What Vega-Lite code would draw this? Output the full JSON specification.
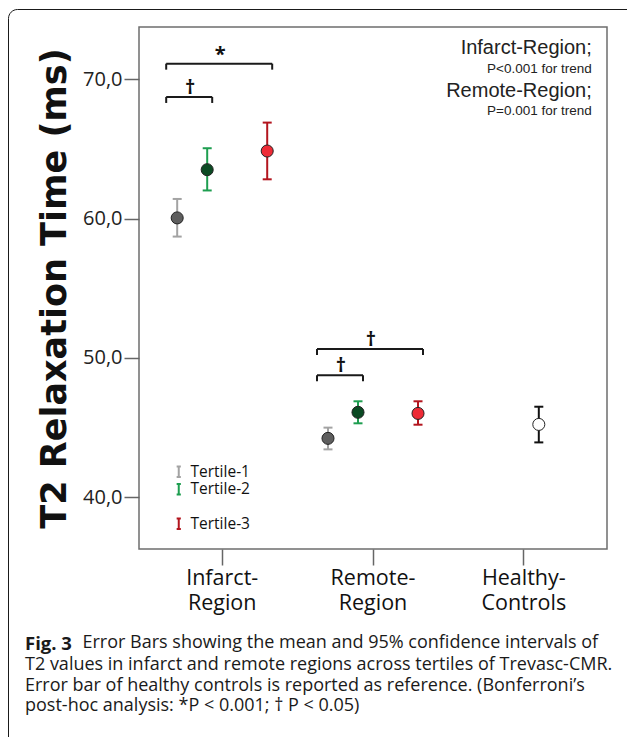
{
  "$schema": "https://vega.github.io/schema/vega-lite/v6.json",
  "width": 468,
  "height": 522,
  "autosize": {"type": "none"},
  "padding": {"left": 139, "top": 27, "right": 20, "bottom": 188},
  "background": "white",
  "config": {"view": {"stroke": "#6e6e6e", "strokeWidth": 1.5}, "font": "Open Sans"},
  "title": {
    "text": "Fig. 3",
    "subtitle": [
      "T2 values in infarct and remote regions across tertiles of Trevasc-CMR.",
      "Error bar of healthy controls is reported as reference. (Bonferroni’s",
      "post-hoc analysis: *P < 0.001; † P < 0.05)"
    ],
    "orient": "bottom",
    "anchor": "start",
    "frame": "group",
    "dx": -114,
    "offset": -196,
    "font": "Open Sans",
    "fontSize": 18.5,
    "fontWeight": "bold",
    "color": "#1a1a1a",
    "subtitleFont": "Open Sans",
    "subtitleFontSize": 18,
    "subtitleFontWeight": "normal",
    "subtitleColor": "#1a1a1a",
    "subtitleLineHeight": 20.5,
    "subtitlePadding": 3
  },
  "datasets": {
    "stats": [
      {"group": "Infarct-Region", "series": "Tertile-1", "mean": 60.05, "lower": 58.71, "upper": 61.41},
      {"group": "Infarct-Region", "series": "Tertile-2", "mean": 63.51, "lower": 62.02, "upper": 65.05},
      {"group": "Infarct-Region", "series": "Tertile-3", "mean": 64.85, "lower": 62.82, "upper": 66.89},
      {"group": "Remote-Region", "series": "Tertile-1", "mean": 44.23, "lower": 43.44, "upper": 45.0},
      {"group": "Remote-Region", "series": "Tertile-2", "mean": 46.1, "lower": 45.31, "upper": 46.89},
      {"group": "Remote-Region", "series": "Tertile-3", "mean": 46.02, "lower": 45.21, "upper": 46.89},
      {"group": "Healthy-Controls", "series": "Control", "mean": 45.23, "lower": 43.94, "upper": 46.5}
    ],
    "brackets": [
      {"group": "Infarct-Region", "type": "short", "top": 68.73, "symbol": "†"},
      {"group": "Infarct-Region", "type": "long", "top": 71.12, "symbol": "*"},
      {"group": "Remote-Region", "type": "short", "top": 48.76, "symbol": "†"},
      {"group": "Remote-Region", "type": "long", "top": 50.65, "symbol": "†"}
    ],
    "notes": [
      {"group": "Healthy-Controls", "level": "head", "label": "Infarct-Region;", "y": 72.25},
      {"group": "Healthy-Controls", "level": "trend", "label": "P<0.001 for trend", "y": 70.74},
      {"group": "Healthy-Controls", "level": "head", "label": "Remote-Region;", "y": 69.16},
      {"group": "Healthy-Controls", "level": "trend", "label": "P=0.001 for trend", "y": 67.72}
    ]
  },
  "layer": [
    {
      "data": {"name": "stats"},
      "mark": {"type": "rule", "strokeWidth": 2},
      "encoding": {
        "x": {
          "field": "group", "type": "nominal",
          "scale": {"type": "band", "domain": ["Infarct-Region", "Remote-Region", "Healthy-Controls"], "paddingInner": 0, "paddingOuter": 0.0517},
          "axis": {
            "title": "Error Bars showing the mean and 95% confidence intervals of",
            "titleFont": "Open Sans", "titleFontSize": 18, "titleFontWeight": "normal", "titleColor": "#1a1a1a",
            "titleX": -57, "titleY": 98, "titleAlign": "left", "titleBaseline": "alphabetic", "titleAnchor": "start",
            "labelExpr": "[split(datum.value,'-')[0] + '-', split(datum.value,'-')[1]]",
            "labelFont": "Open Sans", "labelFontSize": 21.5, "labelColor": "#111", "labelLineHeight": 25,
            "labelAngle": 0, "labelBaseline": "top", "labelPadding": 2,
            "tickSize": 16, "tickColor": "#666", "tickWidth": 1.5, "domain": false, "grid": false
          }
        },
        "xOffset": {
          "field": "series", "type": "nominal",
          "scale": {"domain": ["Tertile-1", "Tertile-2", "Control", "Tertile-3"], "paddingInner": 0, "paddingOuter": 0.513}
        },
        "y": {
          "field": "lower", "type": "quantitative",
          "scale": {"domain": [36.29, 73.75], "nice": false, "zero": false},
          "axis": {
            "values": [40, 50, 60, 70],
            "labelExpr": "replace(format(datum.value, '.1f'), '.', ',')",
            "title": "T2 Relaxation Time (ms)",
            "titleFont": "DejaVu Sans", "titleFontSize": 35, "titleFontWeight": "bold", "titleColor": "#111",
            "titleX": -85, "titleY": 261, "titleAngle": -90, "titleAlign": "center", "titleBaseline": "middle",
            "labelFont": "Open Sans", "labelFontSize": 20, "labelColor": "#222", "labelPadding": 2,
            "tickSize": 15, "tickColor": "#666", "tickWidth": 1.5, "domain": false, "grid": false
          }
        },
        "y2": {"field": "upper"},
        "stroke": {
          "field": "series", "type": "nominal",
          "scale": {"domain": ["Tertile-1", "Tertile-2", "Control", "Tertile-3"], "range": ["#a3a3a3", "#1e9e50", "#111111", "#b3151e"]},
          "legend": {
            "title": null, "orient": "none", "legendX": 32, "legendY": 437,
            "values": ["Tertile-1", "Tertile-2", "Control", "Tertile-3"],
            "symbolType": "M-0.4,-1H0.4M0,-1V1M-0.4,1H0.4",
            "symbolSize": 110, "symbolStrokeWidth": 2, "symbolFillColor": "transparent",
            "labelFont": "Open Sans", "labelFontSize": 15.5, "labelColor": "#111", "labelOffset": 4,
            "rowPadding": -1.5, "padding": 0,
            "labelExpr": "datum.value === 'Control' ? '' : datum.label",
            "encode": {"symbols": {"update": {"opacity": {"signal": "datum.value === 'Control' ? 0 : 1"}}}}
          }
        }
      }
    },
    {
      "data": {"name": "stats"},
      "mark": {"type": "point", "shape": "M-1,0H1", "filled": false, "size": 81, "strokeWidth": 2, "opacity": 1},
      "encoding": {
        "x": {"field": "group", "type": "nominal"},
        "xOffset": {"field": "series", "type": "nominal"},
        "y": {"field": "upper", "type": "quantitative"},
        "stroke": {"field": "series", "type": "nominal"}
      }
    },
    {
      "data": {"name": "stats"},
      "mark": {"type": "point", "shape": "M-1,0H1", "filled": false, "size": 81, "strokeWidth": 2, "opacity": 1},
      "encoding": {
        "x": {"field": "group", "type": "nominal"},
        "xOffset": {"field": "series", "type": "nominal"},
        "y": {"field": "lower", "type": "quantitative"},
        "stroke": {"field": "series", "type": "nominal"}
      }
    },
    {
      "data": {"name": "stats"},
      "mark": {"type": "circle", "size": 145, "stroke": "#222", "strokeWidth": 1, "opacity": 1},
      "encoding": {
        "x": {"field": "group", "type": "nominal"},
        "xOffset": {"field": "series", "type": "nominal"},
        "y": {"field": "mean", "type": "quantitative"},
        "fill": {
          "field": "series", "type": "nominal",
          "scale": {"domain": ["Tertile-1", "Tertile-2", "Control", "Tertile-3"], "range": ["#5e5e5e", "#0b4a23", "#ffffff", "#ee2b36"]},
          "legend": null
        },
        "strokeOpacity": {
          "field": "series", "type": "nominal",
          "scale": {"domain": ["Tertile-1", "Tertile-2", "Control", "Tertile-3"], "range": [1, 1, 1, 0]},
          "legend": null
        }
      }
    },
    {
      "data": {"name": "brackets"},
      "transform": [{"filter": "datum.type === 'short'"}],
      "mark": {"type": "rule", "strokeWidth": 2, "color": "#1a1a1a", "xOffset": -56, "x2Offset": -10},
      "encoding": {
        "x": {"field": "group", "type": "nominal"},
        "x2": {"field": "group"},
        "y": {"field": "top", "type": "quantitative"}
      }
    },
    {
      "data": {"name": "brackets"},
      "transform": [{"filter": "datum.type === 'long'"}],
      "mark": {"type": "rule", "strokeWidth": 2, "color": "#1a1a1a", "xOffset": -56, "x2Offset": 50},
      "encoding": {
        "x": {"field": "group", "type": "nominal"},
        "x2": {"field": "group"},
        "y": {"field": "top", "type": "quantitative"},
        "strokeDash": {
          "field": "type", "type": "nominal",
          "scale": {"domain": ["long"], "range": [[1, 0]]},
          "legend": {
            "title": null, "orient": "none", "legendX": -131, "legendY": -18,
            "padding": 410, "strokeColor": "#1a1a1a", "cornerRadius": 9,
            "symbolSize": 1, "symbolOpacity": 0, "symbolStrokeWidth": 0,
            "labelExpr": "''", "labelFontSize": 1, "labelOffset": 0,
            "encode": {"legend": {"update": {"strokeWidth": {"value": 1.6}}}}
          }
        }
      }
    },
    {
      "data": {"name": "brackets"},
      "mark": {"type": "rule", "strokeWidth": 2, "color": "#1a1a1a", "xOffset": -56, "y2Offset": 6},
      "encoding": {
        "x": {"field": "group", "type": "nominal"},
        "y": {"field": "top", "type": "quantitative"},
        "y2": {"field": "top"}
      }
    },
    {
      "data": {"name": "brackets"},
      "transform": [{"filter": "datum.type === 'short'"}],
      "mark": {"type": "rule", "strokeWidth": 2, "color": "#1a1a1a", "xOffset": -10, "y2Offset": 6},
      "encoding": {
        "x": {"field": "group", "type": "nominal"},
        "y": {"field": "top", "type": "quantitative"},
        "y2": {"field": "top"}
      }
    },
    {
      "data": {"name": "brackets"},
      "transform": [{"filter": "datum.type === 'long'"}],
      "mark": {"type": "rule", "strokeWidth": 2, "color": "#1a1a1a", "xOffset": 50, "y2Offset": 6},
      "encoding": {
        "x": {"field": "group", "type": "nominal"},
        "y": {"field": "top", "type": "quantitative"},
        "y2": {"field": "top"}
      }
    },
    {
      "data": {"name": "brackets"},
      "transform": [{"filter": "datum.type === 'short'"}],
      "mark": {"type": "text", "font": "Open Sans", "fontSize": 20, "fontWeight": "bold", "color": "#111", "baseline": "alphabetic", "dy": -3, "xOffset": -32},
      "encoding": {
        "x": {"field": "group", "type": "nominal"},
        "y": {"field": "top", "type": "quantitative"},
        "text": {"field": "symbol"}
      }
    },
    {
      "data": {"name": "brackets"},
      "transform": [{"filter": "datum.type === 'long'"}],
      "mark": {"type": "text", "font": "Open Sans", "fontSize": 20, "fontWeight": "bold", "color": "#111", "baseline": "alphabetic", "dy": -3, "xOffset": -2},
      "encoding": {
        "x": {"field": "group", "type": "nominal"},
        "y": {"field": "top", "type": "quantitative"},
        "text": {"field": "symbol"}
      }
    },
    {
      "data": {"name": "notes"},
      "transform": [{"filter": "datum.level === 'head'"}],
      "mark": {"type": "text", "font": "Liberation Sans", "fontSize": 20, "color": "#222", "align": "right", "baseline": "middle", "xOffset": 68},
      "encoding": {
        "x": {"field": "group", "type": "nominal"},
        "y": {"field": "y", "type": "quantitative"},
        "text": {"field": "label"}
      }
    },
    {
      "data": {"name": "notes"},
      "transform": [{"filter": "datum.level === 'trend'"}],
      "mark": {"type": "text", "font": "Liberation Sans", "fontSize": 13.5, "color": "#222", "align": "right", "baseline": "middle", "xOffset": 68},
      "encoding": {
        "x": {"field": "group", "type": "nominal"},
        "y": {"field": "y", "type": "quantitative"},
        "text": {"field": "label"}
      }
    }
  ]
}
